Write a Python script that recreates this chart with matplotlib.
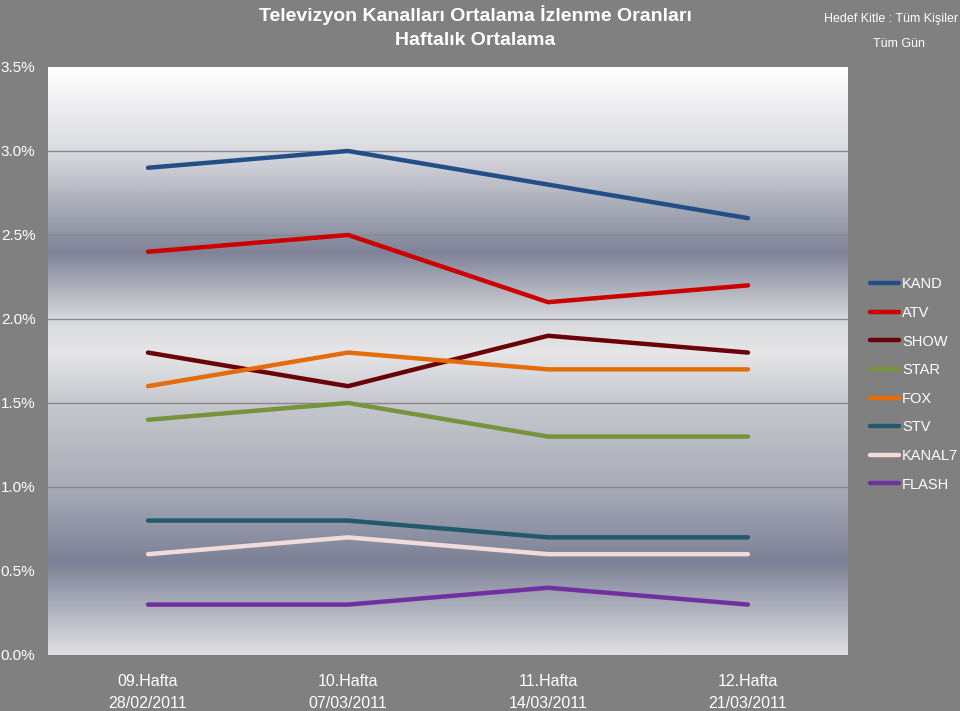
import matplotlib.pyplot as plt
import numpy as np
from matplotlib.colors import LinearSegmentedColormap

# data
weeks = ["09.Hafta\n28/02/2011", "10.Hafta\n07/03/2011", "11.Hafta\n14/03/2011", "12.Hafta\n21/03/2011"]
channels = ["KAND", "ATV", "SHOW", "STAR", "FOX", "STV", "KANAL7", "FLASH"]
kand = [2.9, 3.0, 2.8, 2.6]
atv = [2.4, 2.5, 2.1, 2.2]
show = [1.8, 1.6, 1.9, 1.8]
star = [1.4, 1.5, 1.3, 1.3]
fox = [1.6, 1.8, 1.7, 1.7]
stv = [0.8, 0.8, 0.7, 0.7]
kanal7 = [0.6, 0.7, 0.6, 0.6]
flash = [0.3, 0.3, 0.4, 0.3]
series = [kand, atv, show, star, fox, stv, kanal7, flash]
colors = ["#234f87", "#cc0000", "#6a0008", "#77933c", "#e46c0a", "#215a6a", "#f2dcdb", "#7030a0"]

plt.rcParams["font.family"] = ["Liberation Sans", "DejaVu Sans"]

fig = plt.figure(figsize=(9.6, 7.11), dpi=100, facecolor="#808080")
ax = fig.add_axes([0.05, 0.0788, 0.8333, 0.827])

# background gradient of the plot area
grad = LinearSegmentedColormap.from_list("bg", [
    (0.0, "#dfdfe2"), (0.55 / 3.5, "#7d8197"), (1.0 / 3.5, "#a9acb7"),
    (1.5 / 3.5, "#c6c8ce"), (1.8 / 3.5, "#e6e6e8"), (2.0 / 3.5, "#d8d9dd"),
    (2.4 / 3.5, "#7f8397"), (3.0 / 3.5, "#d9dadf"), (1.0, "#ffffff")])
ax.imshow(np.linspace(0, 1, 400).reshape(-1, 1), cmap=grad, aspect="auto",
          extent=[0, 4, 0, 3.5], origin="lower", zorder=0)

x = np.arange(len(weeks)) + 0.5
for vals, name, c in zip(series, channels, colors):
    ax.plot(x, vals, color=c, lw=3.2, label=name, solid_capstyle="round", zorder=3)

ax.set_xlim(0, 4)
ax.set_ylim(0, 3.5)
ax.set_yticks(np.arange(0, 3.51, 0.5))
ax.set_yticklabels([f"{v:.1f}%" for v in np.arange(0, 3.51, 0.5)])
ax.set_xticks(x)
ax.set_xticklabels(weeks, linespacing=1.55)
ax.tick_params(axis="both", length=0, colors="white", labelsize=11)
ax.tick_params(axis="x", labelsize=11.5, pad=14)
for lab in ax.get_yticklabels():
    lab.set_horizontalalignment("left")
ax.tick_params(axis="y", pad=34)
for y in np.arange(0.5, 3.01, 0.5):
    ax.axhline(y, color="#888888", lw=1, zorder=1)
for s in ax.spines.values():
    s.set_visible(False)

leg = ax.legend(loc="upper left", bbox_to_anchor=(1.02, 0.652), frameon=False,
                fontsize=10.5, labelcolor="white", handlelength=2.0,
                handletextpad=0.2, labelspacing=1.0, borderaxespad=0)

fig.text(0.495, 0.993, "Televizyon Kanalları Ortalama İzlenme Oranları",
         ha="center", va="top", color="white", fontsize=14, fontweight="bold")
fig.text(0.495, 0.955, "Haftalık Ortalama",
         ha="center", va="top", color="white", fontsize=14, fontweight="bold")
fig.text(0.998, 0.982, "Hedef Kitle : Tüm Kişiler", ha="right", va="top",
         color="white", fontsize=9)
fig.text(0.936, 0.947, "Tüm Gün", ha="center", va="top", color="white", fontsize=9)

fig.savefig("out.png", dpi=100, facecolor=fig.get_facecolor())
